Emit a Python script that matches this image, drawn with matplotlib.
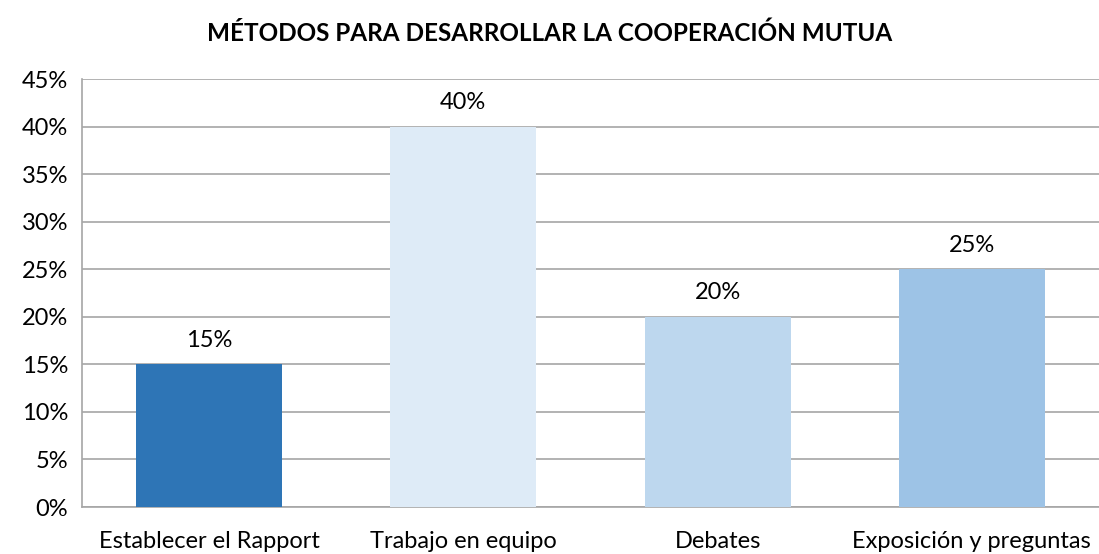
import matplotlib.pyplot as plt
from matplotlib.ticker import MultipleLocator, FuncFormatter

plt.rcParams['font.family'] = ['Lato', 'DejaVu Sans']

# Data
categories = ['Establecer el Rapport', 'Trabajo en equipo', 'Debates', 'Exposición y preguntas']
values = [15, 40, 20, 25]
colors = ['#2E75B6', '#DEEBF7', '#BDD7EE', '#9DC3E6']
title = 'MÉTODOS PARA DESARROLLAR LA COOPERACIÓN MUTUA'

fig = plt.figure(figsize=(10.99, 5.54), dpi=100)
ax = fig.add_axes([0.0746, 0.0848, 0.9254, 0.7726])

x = range(len(categories))
bars = ax.bar(x, values, width=0.575, color=colors, zorder=3)

for b, v in zip(bars, values):
    ax.text(b.get_x() + b.get_width() / 2, v + 1.4, f'{v}%',
            ha='center', va='bottom', fontsize=17)

ax.set_xlim(-0.5, len(categories) - 0.5)
ax.set_ylim(0, 45)
ax.yaxis.set_major_locator(MultipleLocator(5))
ax.yaxis.set_major_formatter(FuncFormatter(lambda v, p: f'{v:.0f}%'))
ax.set_xticks(list(x))
ax.set_xticklabels(categories)
ax.tick_params(axis='both', length=0, labelsize=17)
ax.tick_params(axis='x', pad=17)
ax.tick_params(axis='y', pad=10)

ax.grid(axis='y', color='#A6A6A6', linewidth=1.2, zorder=0)
for s in ['top', 'right']:
    ax.spines[s].set_visible(False)
for s in ['left', 'bottom']:
    ax.spines[s].set_color('#A6A6A6')
    ax.spines[s].set_linewidth(1.2)

fig.text(0.5, 0.94, title, ha='center', va='center', fontsize=17.5, fontweight='bold')

fig.savefig('out.png', dpi=100)
